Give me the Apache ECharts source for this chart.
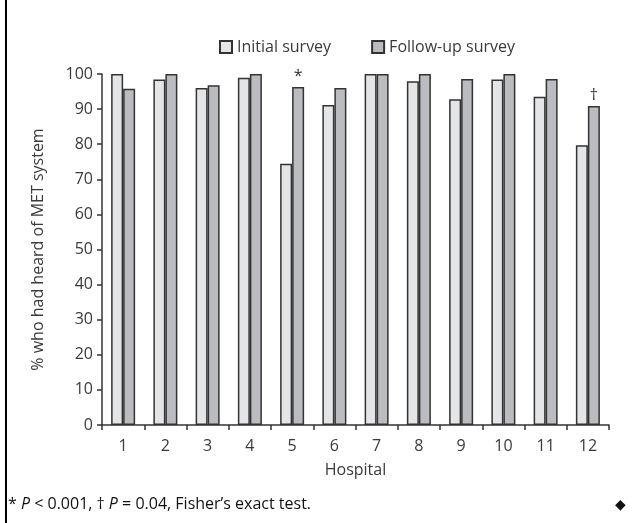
<!DOCTYPE html>
<html>
<head>
<meta charset="utf-8">
<script src="https://cdn.jsdelivr.net/npm/echarts@6/dist/echarts.min.js"></script>
<style>html,body{margin:0;padding:0;background:#fff}#c{width:644px;height:523px}</style>
</head>
<body>
<div id="c"></div>
<script>
const hospitals = ['1','2','3','4','5','6','7','8','9','10','11','12'];
const initialSurvey = [100, 98.4, 96.0, 98.9, 74.4, 91.2, 100, 97.9, 92.8, 98.4, 93.5, 79.7];
const followUpSurvey = [95.8, 100, 96.8, 100, 96.3, 96.0, 100, 100, 98.6, 100, 98.6, 90.9];
const followUpMarks = ['', '', '', '', '*', '', '', '', '', '', '', '†'];
const yTicks = [0, 10, 20, 30, 40, 50, 60, 70, 80, 90, 100];

const FONT = '"Open Sans", Lato, sans-serif';
const chart = echarts.init(document.getElementById('c'), null, {renderer: 'canvas'});
chart.setOption({
  animation: false,
  backgroundColor: '#fff',
  textStyle: {fontFamily: FONT},
  legend: {
    top: 34,
    left: 214,
    itemWidth: 12, itemHeight: 12,
    itemGap: 40,
    icon: 'rect',
    textStyle: {fontFamily: FONT, fontSize: 16, color: '#3a3a3a'},
    data: ['Initial survey', 'Follow-up survey']
  },
  grid: {left: 102, right: 35, top: 74, bottom: 98, containLabel: false},
  xAxis: {
    type: 'category',
    data: hospitals,
    name: 'Hospital',
    nameLocation: 'middle',
    nameGap: 37,
    nameTextStyle: {fontFamily: FONT, fontSize: 16, color: '#3a3a3a'},
    axisLine: {lineStyle: {color: '#333', width: 1.5}},
    axisTick: {show: true, length: 5, lineStyle: {color: '#333', width: 1.5}},
    axisLabel: {fontFamily: FONT, fontSize: 16, color: '#3a3a3a', margin: 13}
  },
  yAxis: {
    type: 'value',
    min: yTicks[0], max: yTicks[yTicks.length - 1], interval: 10,
    name: '% who had heard of MET system',
    nameLocation: 'middle',
    nameGap: 56,
    nameTextStyle: {fontFamily: FONT, fontSize: 16, color: '#3a3a3a'},
    splitLine: {show: false},
    axisLine: {show: true, lineStyle: {color: '#333', width: 1.5}},
    axisTick: {show: true, length: 5, lineStyle: {color: '#333', width: 1.5}},
    axisLabel: {fontFamily: FONT, fontSize: 16, color: '#3a3a3a', margin: 9}
  },
  series: [
    {
      name: 'Initial survey', type: 'bar', barWidth: 12, barGap: '0%',
      data: initialSurvey,
      itemStyle: {color: '#e4e5e7', borderColor: '#333', borderWidth: 1.5}
    },
    {
      name: 'Follow-up survey', type: 'bar', barWidth: 12,
      data: followUpSurvey.map((v, i) => ({
        value: v,
        label: {show: followUpMarks[i] !== '', formatter: followUpMarks[i], position: 'top', distance: 3,
                fontFamily: FONT, fontSize: 16, color: '#333'}
      })),
      itemStyle: {color: '#bbbcc0', borderColor: '#333', borderWidth: 1.5}
    }
  ],
  graphic: [
    {type: 'rect', shape: {x: 5, y: 0, width: 2, height: 523}, style: {fill: '#000'}},
    {type: 'text', left: 8, top: 496, style: {
      text: '* {i|P} < 0.001, † {i|P} = 0.04, Fisher’s exact test.',
      font: '16px "Open Sans", sans-serif',
      fill: '#111',
      rich: {i: {fontStyle: 'italic', font: 'italic 16px "Open Sans", sans-serif', fill: '#111'}}
    }},
    {type: 'text', left: 615, top: 498, style: {text: '◆', font: '14px "DejaVu Sans", sans-serif', fill: '#111'}}
  ]
});
</script>
</body>
</html>
